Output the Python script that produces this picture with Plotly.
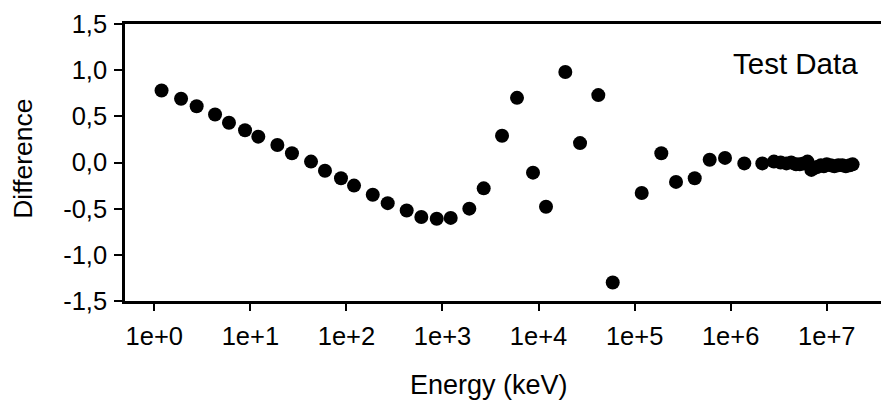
import plotly.graph_objects as go

energy_kev = [
    1.19, 1.90, 2.76, 4.29, 5.99, 8.80, 12.1, 19.1, 27.1, 42.8,
    59.8, 87.8, 120, 188, 269, 424, 602, 871, 1218, 1903,
    2686, 4169, 5970, 8756, 11960, 19000, 27040, 41900, 59200, 118600,
    189700, 269900, 422500, 605000, 873000, 1.387e6, 2.134e6,
    2.82e6, 3.31e6, 3.80e6, 4.27e6, 4.79e6, 5.25e6, 5.75e6, 6.31e6, 6.92e6, 7.41e6,
    7.94e6, 8.71e6, 9.33e6, 1.0e7, 1.10e7, 1.20e7, 1.32e7, 1.45e7, 1.58e7, 1.74e7, 1.86e7,
]
difference = [
    0.78, 0.69, 0.61, 0.52, 0.43, 0.35, 0.28, 0.19, 0.10, 0.01,
    -0.09, -0.17, -0.25, -0.35, -0.44, -0.52, -0.59, -0.61, -0.60, -0.50,
    -0.28, 0.29, 0.70, -0.11, -0.48, 0.98, 0.21, 0.73, -1.30, -0.33,
    0.10, -0.21, -0.17, 0.03, 0.05, -0.01, -0.01,
    0.01, 0.00, -0.01, 0.00, -0.02, -0.02, -0.01, 0.01, -0.08, -0.06,
    -0.05, -0.03, -0.04, -0.02, -0.03, -0.04, -0.03, -0.03, -0.04, -0.03, -0.02,
]

x_tick_vals = [1, 10, 100, 1e3, 1e4, 1e5, 1e6, 1e7]
x_tick_text = ["1e+0", "1e+1", "1e+2", "1e+3", "1e+4", "1e+5", "1e+6", "1e+7"]
y_tick_vals = [-1.5, -1.0, -0.5, 0.0, 0.5, 1.0, 1.5]
y_tick_text = ["-1,5", "-1,0", "-0,5", "0,0", "0,5", "1,0", "1,5"]

FONT = "Liberation Sans, Arial, sans-serif"

fig = go.Figure()
fig.add_trace(go.Scatter(
    x=energy_kev, y=difference, mode="markers",
    marker=dict(size=14, color="black", line=dict(width=0)),
    showlegend=False, hoverinfo="x+y",
))

fig.update_layout(
    width=881, height=401,
    margin=dict(l=125, r=0, t=24, b=100),
    paper_bgcolor="white", plot_bgcolor="white",
    font=dict(family=FONT, color="black"),
    xaxis=dict(
        type="log", range=[-0.305, 7.565],
        tickvals=x_tick_vals, ticktext=x_tick_text,
        ticks="outside", ticklen=7, tickwidth=2, tickcolor="black",
        showline=True, linewidth=2.5, linecolor="black", mirror=True,
        showgrid=False, zeroline=False,
        tickfont=dict(size=25.5, family=FONT, color="black"),
        ticklabelstandoff=4,
    ),
    yaxis=dict(
        range=[-1.5, 1.5],
        tickvals=y_tick_vals, ticktext=y_tick_text,
        ticks="outside", ticklen=8, tickwidth=2, tickcolor="black",
        showline=True, linewidth=2.5, linecolor="black",
        showgrid=False, zeroline=False,
        tickfont=dict(size=25.5, family=FONT, color="black"),
        ticklabelstandoff=2,
    ),
    annotations=[
        dict(text="Energy (keV)", xref="paper", yref="paper", x=0.4815, y=-0.305,
             xanchor="center", yanchor="middle", showarrow=False,
             font=dict(size=27, family=FONT, color="black")),
        dict(text="Difference", xref="paper", yref="paper", x=-0.136, y=0.514,
             xanchor="center", yanchor="middle", showarrow=False, textangle=-90,
             font=dict(size=26.5, family=FONT, color="black")),
        dict(text="Test Data", xref="paper", yref="paper", x=0.887, y=0.859,
             xanchor="center", yanchor="middle", showarrow=False,
             font=dict(size=29.5, family=FONT, color="black")),
    ],
)

fig.write_html("out.html")
